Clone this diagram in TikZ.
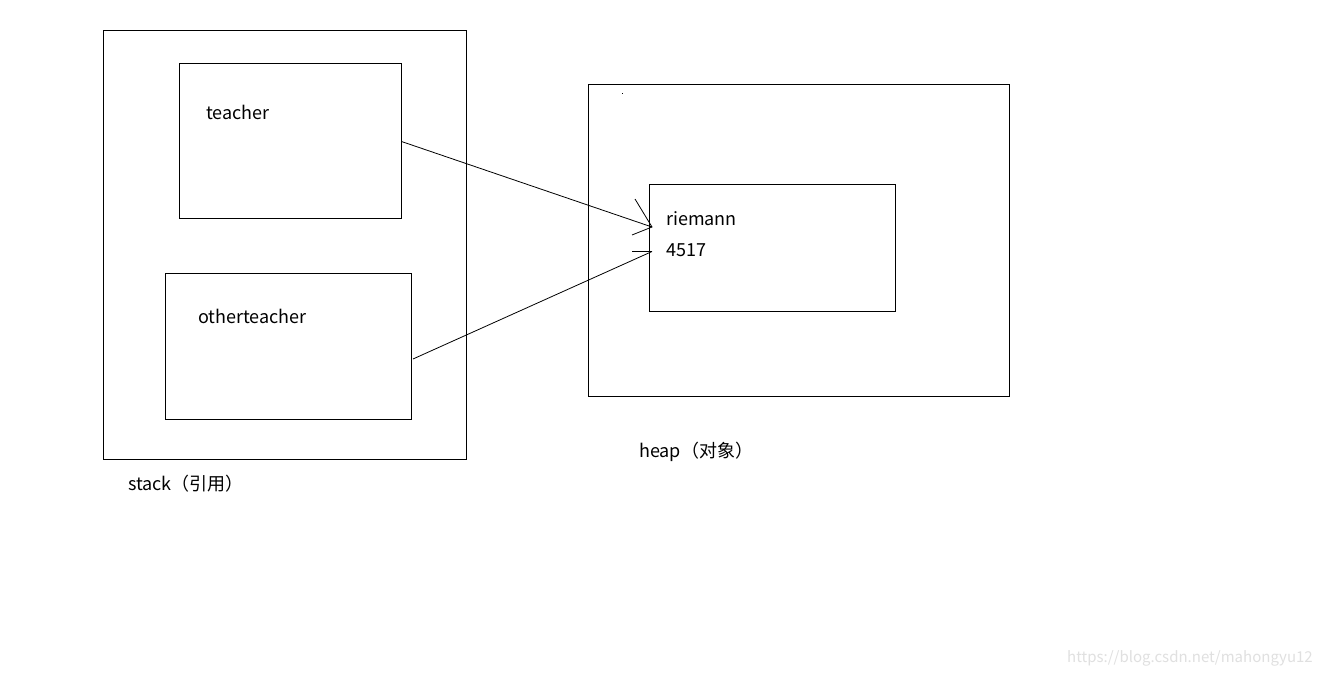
\documentclass[tikz,border=0pt]{standalone}
\usepackage{fontspec}
\setmainfont{Noto Sans CJK SC}
\begin{document}
\begin{tikzpicture}[x=1pt,y=-1pt,
  box/.style={draw,line width=1pt,inner sep=0pt},
  lbl/.style={anchor=west,inner sep=0pt,font=\fontsize{18}{20}\selectfont},
  wire/.style={line width=0.8pt}]
\useasboundingbox[fill=white] (0,0) rectangle (1322,676);
% outer boxes
\node[box,minimum width=363pt,minimum height=428pt] (stack) at (284.5,245) {};
\node[box,minimum width=421pt,minimum height=311pt] (heap) at (798.5,240.5) {};
% inner boxes
\node[box,minimum width=222pt,minimum height=155pt] (teacherbox) at (290,141.5) {};
\node[box,minimum width=246pt,minimum height=145pt] (otherbox) at (288,346.5) {};
\node[box,minimum width=246pt,minimum height=126pt] (objbox) at (772,248) {};
% labels
\node[lbl] (tl) at (206,112) {teacher};
\node[lbl] (ol) at (198,316) {otherteacher};
\node[lbl] (rl) at (666,219) {riemann};
\node[lbl] (nl) at (666,250) {4517};
\node[lbl] (sl) at (128,484) {stack（引用）};
\node[lbl] (hl) at (639,452) {heap（对象）};
% stray dot
\fill (622,93) rectangle (623,94);
% connectors
\coordinate (tip1) at (652,227);
\coordinate (h1a) at (635,199);
\coordinate (h1b) at (632,235);
\coordinate (s2) at (413,359);
\coordinate (tip2) at (652,251.5);
\coordinate (h2) at (632,251.5);
\draw[wire] (teacherbox.east) -- (tip1);
\draw[wire] (h1a) -- (tip1) -- (h1b);
\draw[wire] (s2) -- (tip2);
\draw[wire] (h2) -- (tip2);
% watermark
\node[anchor=east,inner sep=0pt,text=black!12,font=\fontsize{15}{17}\selectfont] (wm) at (1313,658) {https://blog.csdn.net/mahongyu12};
\end{tikzpicture}
\end{document}
